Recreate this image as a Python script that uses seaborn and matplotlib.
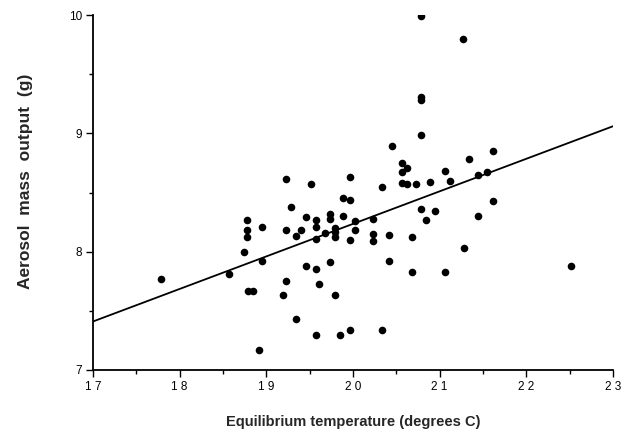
import matplotlib
matplotlib.use("Agg")
import matplotlib.pyplot as plt
import seaborn as sns
import pandas as pd
from matplotlib.ticker import MultipleLocator

temperature = [17.79, 18.57, 18.78, 18.78, 18.78, 18.74, 18.95, 18.95, 18.79, 18.85,
               18.91, 19.29, 19.23, 19.40, 19.34, 19.46, 19.57, 19.57, 19.57, 19.68,
               19.74, 19.74, 19.79, 19.79, 19.79, 19.89, 19.89, 19.96, 20.02, 20.02,
               19.96, 19.46, 19.57, 19.74, 19.23, 19.19, 19.61, 19.79, 19.34, 19.57,
               19.85, 19.96, 19.23, 19.51, 19.96, 20.78, 21.27, 20.78, 20.78, 20.78,
               20.45, 20.57, 20.62, 20.57, 20.34, 20.57, 20.62, 20.73, 20.89, 21.06,
               21.12, 21.34, 21.61, 21.44, 21.55, 20.23, 20.23, 20.23, 20.41, 20.41,
               20.68, 20.68, 20.78, 20.84, 20.95, 21.06, 21.28, 21.44, 21.61, 22.51,
               20.34]
mass_output = [7.77, 7.81, 8.27, 8.18, 8.12, 8.00, 8.21, 7.92, 7.67, 7.67,
               7.17, 8.38, 8.18, 8.18, 8.13, 8.29, 8.27, 8.21, 8.11, 8.16,
               8.32, 8.28, 8.20, 8.17, 8.12, 8.30, 8.45, 8.44, 8.26, 8.18,
               8.10, 7.88, 7.85, 7.91, 7.75, 7.63, 7.73, 7.63, 7.43, 7.30,
               7.30, 7.34, 8.61, 8.57, 8.63, 9.99, 9.80, 9.31, 9.28, 8.99,
               8.89, 8.75, 8.71, 8.67, 8.55, 8.58, 8.57, 8.57, 8.59, 8.68,
               8.60, 8.78, 8.85, 8.65, 8.67, 8.28, 8.15, 8.09, 8.14, 7.92,
               8.12, 7.83, 8.36, 8.27, 8.34, 7.83, 8.03, 8.30, 8.43, 7.88,
               7.34]

fit_x = [17, 23]
fit_y = [7.41, 9.06]

x_ticks = [17, 18, 19, 20, 21, 22, 23]
y_ticks = [7, 8, 9, 10]

sns.set_theme(style="ticks")
plt.rcParams['font.family'] = ['Liberation Sans', 'DejaVu Sans']

fig = plt.figure(figsize=(6.27, 4.34), dpi=100)
ax = fig.add_axes([93/627, 1 - 370/434, (613-93)/627, (370-15)/434])

df = pd.DataFrame({"t": temperature, "m": mass_output})
sns.scatterplot(data=df, x="t", y="m", ax=ax, color="black", s=30,
                edgecolor="black", linewidth=0, zorder=3)
sns.lineplot(x=fit_x, y=fit_y, ax=ax, color="black", linewidth=1.3, zorder=2)

ax.set_xlim(17, 23)
ax.set_ylim(7, 10)
ax.set_xticks(x_ticks)
ax.set_yticks(y_ticks)
ax.set_xticklabels([" ".join(str(v)) for v in x_ticks])
ax.set_yticklabels([str(v) for v in y_ticks])
ax.xaxis.set_minor_locator(MultipleLocator(0.5))
ax.yaxis.set_minor_locator(MultipleLocator(0.5))
ax.tick_params(axis="both", which="major", direction="out", length=5, width=1,
               colors="black", labelsize=8.5, pad=3)
ax.tick_params(axis="both", which="minor", direction="out", length=3, width=1,
               colors="black")

for side in ["top", "right"]:
    ax.spines[side].set_visible(False)
for side in ["left", "bottom"]:
    ax.spines[side].set_linewidth(1.3)
    ax.spines[side].set_color("black")

ax.set_xlabel("Equilibrium temperature (degrees C)", fontsize=10.5,
              fontweight="bold", labelpad=16)
ax.set_ylabel("Aerosol  mass  output  (g)", fontsize=12.5, fontweight="bold")
ax.yaxis.set_label_coords(-0.115, 0.532)

fig.savefig("out.png", dpi=100)
